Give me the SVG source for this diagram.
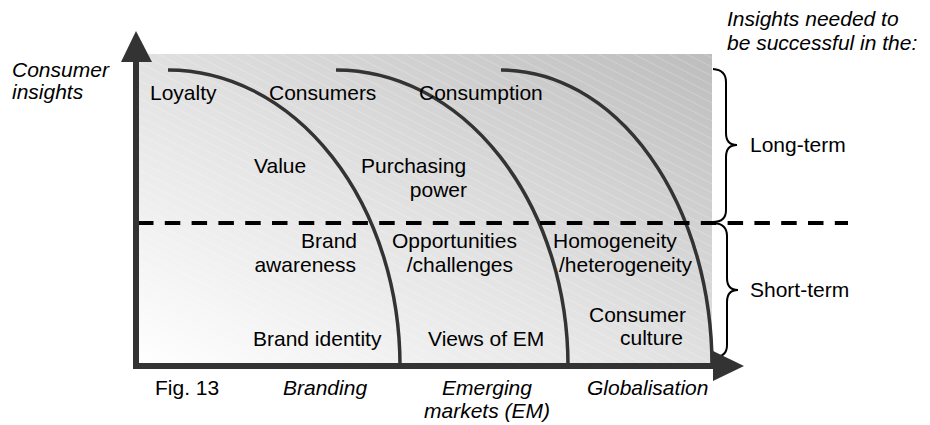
<svg xmlns="http://www.w3.org/2000/svg" width="930" height="425" viewBox="0 0 930 425">
  <defs>
    <linearGradient id="bg" x1="0" y1="1" x2="1" y2="0">
      <stop offset="0" stop-color="#ffffff"/>
      <stop offset="0.45" stop-color="#e4e4e4"/>
      <stop offset="1" stop-color="#bdbdbd"/>
    </linearGradient>
    <pattern id="stripes" width="8" height="8" patternUnits="userSpaceOnUse" patternTransform="rotate(27)">
      <line x1="0" y1="0.5" x2="8" y2="0.5" stroke="#ffffff" stroke-width="0.7" stroke-opacity="0.3"/>
    </pattern>
  </defs>
  <style>
    text { font-family: "Liberation Sans", Arial, sans-serif; font-size: 21px; fill: #000; }
    .it { font-style: italic; }
    .end { text-anchor: end; }
    .mid { text-anchor: middle; }
    .curve { fill: none; stroke: #333; stroke-width: 3.5; }
    .brace { fill: none; stroke: #000; stroke-width: 2; }
    .axis { fill: #333; stroke: none; }
  </style>

  <g id="background">
    <rect x="138" y="54" width="574" height="312" fill="url(#bg)"/>
    <rect x="138" y="54" width="574" height="312" fill="url(#stripes)"/>
  </g>

  <g id="connectors">
    <path class="curve" d="M168,70 A232,296 0 0 1 400,366"/>
    <path class="curve" d="M336,70 A232,296 0 0 1 568,366"/>
    <path class="curve" d="M501,70 A211,296 0 0 1 712,366"/>
    <line x1="138" y1="223" x2="848" y2="223" stroke="#000" stroke-width="4" stroke-dasharray="15.5 11.3"/>
    <path class="brace" d="M713,69 Q726,70 726,82 L726,133 Q726,145 737,145 Q726,145 726,157 L726,210 Q726,222 713,222"/>
    <path class="brace" d="M714,223 Q727,224 727,236 L727,278 Q727,290 738,290 Q727,290 727,302 L727,345 Q727,357 714,357"/>
  </g>

  <g id="axes">
    <rect class="axis" x="133" y="60" width="6" height="309"/>
    <polygon class="axis" points="121,62 152,62 136,31"/>
    <rect class="axis" x="133" y="363" width="582" height="6"/>
    <polygon class="axis" points="713,351 713,381 744,366"/>
  </g>

  <g id="y-label"><text class="it" x="12" y="77">Consumer</text><text class="it" x="12" y="99">insights</text></g>
  <g id="header"><text class="it" x="727" y="26">Insights needed to</text><text class="it" x="727" y="50">be successful in the:</text></g>

  <g id="loyalty"><text x="150" y="100">Loyalty</text></g>
  <g id="consumers"><text x="269" y="100">Consumers</text></g>
  <g id="consumption"><text x="419" y="100">Consumption</text></g>
  <g id="value"><text x="254" y="173">Value</text></g>
  <g id="purchasing-power"><text x="361" y="173">Purchasing</text><text class="end" x="467" y="197">power</text></g>
  <g id="brand-awareness"><text class="end" x="357" y="248">Brand</text><text class="end" x="356" y="272">awareness</text></g>
  <g id="opportunities"><text x="392" y="248">Opportunities</text><text class="end" x="513" y="272">/challenges</text></g>
  <g id="homogeneity"><text x="553" y="248">Homogeneity</text><text x="559" y="272">/heterogeneity</text></g>
  <g id="brand-identity"><text x="253" y="346">Brand identity</text></g>
  <g id="views-em"><text x="428" y="346">Views of EM</text></g>
  <g id="consumer-culture"><text x="589" y="322">Consumer</text><text x="620" y="345">culture</text></g>

  <g id="long-term"><text x="750" y="152">Long-term</text></g>
  <g id="short-term"><text x="750" y="297">Short-term</text></g>

  <g id="x-labels">
    <text x="155" y="395">Fig. 13</text>
    <text class="it" x="283" y="395">Branding</text>
    <text class="it mid" x="487" y="395">Emerging</text>
    <text class="it mid" x="487" y="418">markets (EM)</text>
    <text class="it" x="587" y="395">Globalisation</text>
  </g>
</svg>
